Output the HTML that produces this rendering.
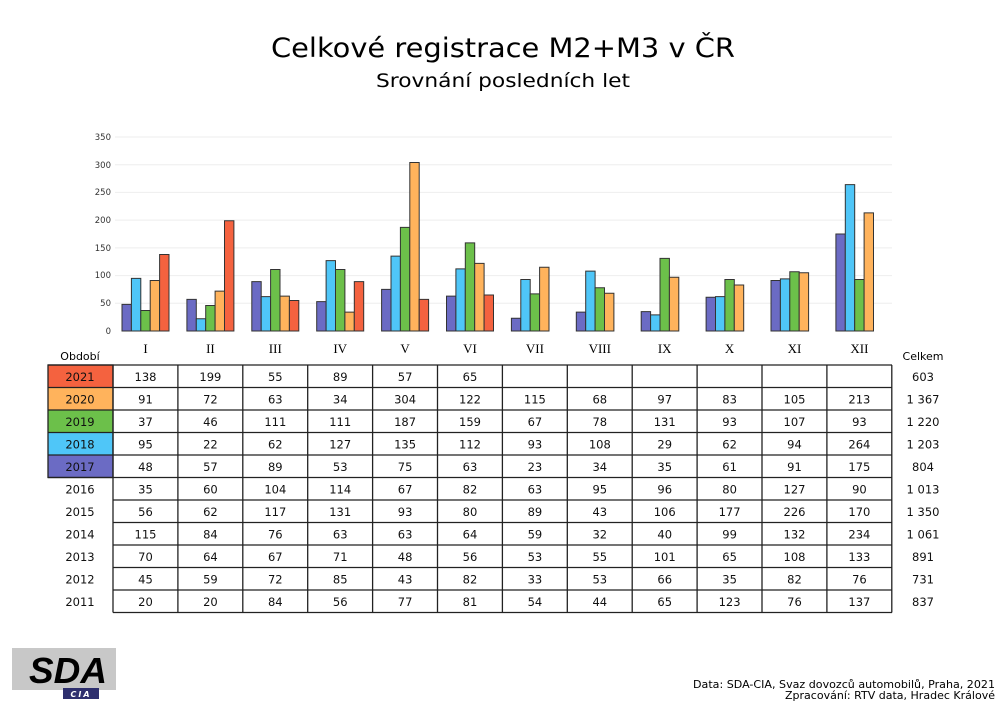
<!DOCTYPE html>
<html><head><meta charset="utf-8"><style>
html,body{margin:0;padding:0;background:#fff;}
svg{display:block;}
text{font-family:"DejaVu Sans","Liberation Sans",sans-serif;}
text.serif{font-family:"Liberation Serif",serif;}
text.lib{font-family:"Liberation Sans",sans-serif;}
</style></head><body>
<svg width="1007" height="709" viewBox="0 0 1007 709" xmlns="http://www.w3.org/2000/svg">
<text x="503" y="57" font-size="27" text-anchor="middle" textLength="464" lengthAdjust="spacingAndGlyphs" fill="#000">Celkové registrace M2+M3 v ČR</text>
<text x="503" y="87" font-size="19" text-anchor="middle" textLength="254" lengthAdjust="spacingAndGlyphs" fill="#000">Srovnání posledních let</text>
<g stroke="#eee" stroke-width="1">
<line x1="115" x2="892" y1="303.3" y2="303.3"/><line x1="115" x2="892" y1="275.6" y2="275.6"/>
<line x1="115" x2="892" y1="247.9" y2="247.9"/><line x1="115" x2="892" y1="220.1" y2="220.1"/>
<line x1="115" x2="892" y1="192.4" y2="192.4"/><line x1="115" x2="892" y1="164.7" y2="164.7"/>
<line x1="115" x2="892" y1="137" y2="137"/>
</g>
<g font-size="8.5" text-anchor="end" fill="#333">
<text x="111" y="334">0</text><text x="111" y="306">50</text><text x="111" y="278">100</text>
<text x="111" y="251">150</text><text x="111" y="223">200</text><text x="111" y="195">250</text>
<text x="111" y="168">300</text><text x="111" y="140">350</text>
</g>
<g transform="translate(0,331) scale(1,-0.5543)" stroke="#333" stroke-width="1">
<g transform="translate(113,0)"><rect x="9" y="0" width="9.4" height="48" fill="#6b6bc4" vector-effect="non-scaling-stroke"/><rect x="18.4" y="0" width="9.4" height="95" fill="#4fc6f8" vector-effect="non-scaling-stroke"/><rect x="27.8" y="0" width="9.4" height="37" fill="#6cc04a" vector-effect="non-scaling-stroke"/><rect x="37.2" y="0" width="9.4" height="91" fill="#ffb35c" vector-effect="non-scaling-stroke"/><rect x="46.6" y="0" width="9.4" height="138" fill="#f4623f" vector-effect="non-scaling-stroke"/></g>
<g transform="translate(177.9,0)"><rect x="9" y="0" width="9.4" height="57" fill="#6b6bc4" vector-effect="non-scaling-stroke"/><rect x="18.4" y="0" width="9.4" height="22" fill="#4fc6f8" vector-effect="non-scaling-stroke"/><rect x="27.8" y="0" width="9.4" height="46" fill="#6cc04a" vector-effect="non-scaling-stroke"/><rect x="37.2" y="0" width="9.4" height="72" fill="#ffb35c" vector-effect="non-scaling-stroke"/><rect x="46.6" y="0" width="9.4" height="199" fill="#f4623f" vector-effect="non-scaling-stroke"/></g>
<g transform="translate(242.8,0)"><rect x="9" y="0" width="9.4" height="89" fill="#6b6bc4" vector-effect="non-scaling-stroke"/><rect x="18.4" y="0" width="9.4" height="62" fill="#4fc6f8" vector-effect="non-scaling-stroke"/><rect x="27.8" y="0" width="9.4" height="111" fill="#6cc04a" vector-effect="non-scaling-stroke"/><rect x="37.2" y="0" width="9.4" height="63" fill="#ffb35c" vector-effect="non-scaling-stroke"/><rect x="46.6" y="0" width="9.4" height="55" fill="#f4623f" vector-effect="non-scaling-stroke"/></g>
<g transform="translate(307.7,0)"><rect x="9" y="0" width="9.4" height="53" fill="#6b6bc4" vector-effect="non-scaling-stroke"/><rect x="18.4" y="0" width="9.4" height="127" fill="#4fc6f8" vector-effect="non-scaling-stroke"/><rect x="27.8" y="0" width="9.4" height="111" fill="#6cc04a" vector-effect="non-scaling-stroke"/><rect x="37.2" y="0" width="9.4" height="34" fill="#ffb35c" vector-effect="non-scaling-stroke"/><rect x="46.6" y="0" width="9.4" height="89" fill="#f4623f" vector-effect="non-scaling-stroke"/></g>
<g transform="translate(372.6,0)"><rect x="9" y="0" width="9.4" height="75" fill="#6b6bc4" vector-effect="non-scaling-stroke"/><rect x="18.4" y="0" width="9.4" height="135" fill="#4fc6f8" vector-effect="non-scaling-stroke"/><rect x="27.8" y="0" width="9.4" height="187" fill="#6cc04a" vector-effect="non-scaling-stroke"/><rect x="37.2" y="0" width="9.4" height="304" fill="#ffb35c" vector-effect="non-scaling-stroke"/><rect x="46.6" y="0" width="9.4" height="57" fill="#f4623f" vector-effect="non-scaling-stroke"/></g>
<g transform="translate(437.5,0)"><rect x="9" y="0" width="9.4" height="63" fill="#6b6bc4" vector-effect="non-scaling-stroke"/><rect x="18.4" y="0" width="9.4" height="112" fill="#4fc6f8" vector-effect="non-scaling-stroke"/><rect x="27.8" y="0" width="9.4" height="159" fill="#6cc04a" vector-effect="non-scaling-stroke"/><rect x="37.2" y="0" width="9.4" height="122" fill="#ffb35c" vector-effect="non-scaling-stroke"/><rect x="46.6" y="0" width="9.4" height="65" fill="#f4623f" vector-effect="non-scaling-stroke"/></g>
<g transform="translate(502.4,0)"><rect x="9" y="0" width="9.4" height="23" fill="#6b6bc4" vector-effect="non-scaling-stroke"/><rect x="18.4" y="0" width="9.4" height="93" fill="#4fc6f8" vector-effect="non-scaling-stroke"/><rect x="27.8" y="0" width="9.4" height="67" fill="#6cc04a" vector-effect="non-scaling-stroke"/><rect x="37.2" y="0" width="9.4" height="115" fill="#ffb35c" vector-effect="non-scaling-stroke"/></g>
<g transform="translate(567.3,0)"><rect x="9" y="0" width="9.4" height="34" fill="#6b6bc4" vector-effect="non-scaling-stroke"/><rect x="18.4" y="0" width="9.4" height="108" fill="#4fc6f8" vector-effect="non-scaling-stroke"/><rect x="27.8" y="0" width="9.4" height="78" fill="#6cc04a" vector-effect="non-scaling-stroke"/><rect x="37.2" y="0" width="9.4" height="68" fill="#ffb35c" vector-effect="non-scaling-stroke"/></g>
<g transform="translate(632.2,0)"><rect x="9" y="0" width="9.4" height="35" fill="#6b6bc4" vector-effect="non-scaling-stroke"/><rect x="18.4" y="0" width="9.4" height="29" fill="#4fc6f8" vector-effect="non-scaling-stroke"/><rect x="27.8" y="0" width="9.4" height="131" fill="#6cc04a" vector-effect="non-scaling-stroke"/><rect x="37.2" y="0" width="9.4" height="97" fill="#ffb35c" vector-effect="non-scaling-stroke"/></g>
<g transform="translate(697.1,0)"><rect x="9" y="0" width="9.4" height="61" fill="#6b6bc4" vector-effect="non-scaling-stroke"/><rect x="18.4" y="0" width="9.4" height="62" fill="#4fc6f8" vector-effect="non-scaling-stroke"/><rect x="27.8" y="0" width="9.4" height="93" fill="#6cc04a" vector-effect="non-scaling-stroke"/><rect x="37.2" y="0" width="9.4" height="83" fill="#ffb35c" vector-effect="non-scaling-stroke"/></g>
<g transform="translate(762,0)"><rect x="9" y="0" width="9.4" height="91" fill="#6b6bc4" vector-effect="non-scaling-stroke"/><rect x="18.4" y="0" width="9.4" height="94" fill="#4fc6f8" vector-effect="non-scaling-stroke"/><rect x="27.8" y="0" width="9.4" height="107" fill="#6cc04a" vector-effect="non-scaling-stroke"/><rect x="37.2" y="0" width="9.4" height="105" fill="#ffb35c" vector-effect="non-scaling-stroke"/></g>
<g transform="translate(826.9,0)"><rect x="9" y="0" width="9.4" height="175" fill="#6b6bc4" vector-effect="non-scaling-stroke"/><rect x="18.4" y="0" width="9.4" height="264" fill="#4fc6f8" vector-effect="non-scaling-stroke"/><rect x="27.8" y="0" width="9.4" height="93" fill="#6cc04a" vector-effect="non-scaling-stroke"/><rect x="37.2" y="0" width="9.4" height="213" fill="#ffb35c" vector-effect="non-scaling-stroke"/></g>
</g>
<g font-size="13" text-anchor="middle" fill="#000">
<text class="serif" x="145.5" y="353">I</text><text class="serif" x="210.4" y="353">II</text><text class="serif" x="275.3" y="353">III</text><text class="serif" x="340.2" y="353">IV</text><text class="serif" x="405.1" y="353">V</text><text class="serif" x="470" y="353">VI</text><text class="serif" x="534.9" y="353">VII</text><text class="serif" x="599.8" y="353">VIII</text><text class="serif" x="664.7" y="353">IX</text><text class="serif" x="729.6" y="353">X</text><text class="serif" x="794.5" y="353">XI</text><text class="serif" x="859.4" y="353">XII</text>
</g>
<text x="80" y="360" font-size="11" text-anchor="middle">Období</text>
<text x="923" y="360" font-size="11" text-anchor="middle">Celkem</text>
<rect x="48" y="365" width="65" height="22.5" fill="#f4623f"/>
<rect x="48" y="387.5" width="65" height="22.5" fill="#ffb35c"/>
<rect x="48" y="410" width="65" height="22.5" fill="#6cc04a"/>
<rect x="48" y="432.5" width="65" height="22.5" fill="#4fc6f8"/>
<rect x="48" y="455" width="65" height="22.5" fill="#6b6bc4"/>
<g stroke="#222" stroke-width="1.3" fill="none">
<rect x="48" y="365" width="65" height="112.5"/>
<line x1="48" x2="892" y1="365" y2="365"/><line x1="48" x2="892" y1="387.5" y2="387.5"/><line x1="48" x2="892" y1="410" y2="410"/><line x1="48" x2="892" y1="432.5" y2="432.5"/><line x1="48" x2="892" y1="455" y2="455"/><line x1="48" x2="892" y1="477.5" y2="477.5"/>
<line x1="113" x2="892" y1="500" y2="500"/><line x1="113" x2="892" y1="522.5" y2="522.5"/><line x1="113" x2="892" y1="545" y2="545"/><line x1="113" x2="892" y1="567.5" y2="567.5"/><line x1="113" x2="892" y1="590" y2="590"/><line x1="113" x2="892" y1="612.5" y2="612.5"/>
<line x1="113" x2="113" y1="365" y2="612.5"/><line x1="177.9" x2="177.9" y1="365" y2="612.5"/><line x1="242.8" x2="242.8" y1="365" y2="612.5"/><line x1="307.7" x2="307.7" y1="365" y2="612.5"/><line x1="372.6" x2="372.6" y1="365" y2="612.5"/><line x1="437.5" x2="437.5" y1="365" y2="612.5"/><line x1="502.4" x2="502.4" y1="365" y2="612.5"/><line x1="567.3" x2="567.3" y1="365" y2="612.5"/><line x1="632.2" x2="632.2" y1="365" y2="612.5"/><line x1="697.1" x2="697.1" y1="365" y2="612.5"/><line x1="762" x2="762" y1="365" y2="612.5"/><line x1="826.9" x2="826.9" y1="365" y2="612.5"/><line x1="891.8" x2="891.8" y1="365" y2="612.5"/>
</g>
<g font-size="11.5" text-anchor="middle" fill="#111">
<g transform="translate(0,381)"><text x="80">2021</text><text x="145.5">138</text><text x="210.4">199</text><text x="275.3">55</text><text x="340.2">89</text><text x="405.1">57</text><text x="470">65</text><text x="923">603</text></g>
<g transform="translate(0,403.5)"><text x="80">2020</text><text x="145.5">91</text><text x="210.4">72</text><text x="275.3">63</text><text x="340.2">34</text><text x="405.1">304</text><text x="470">122</text><text x="534.9">115</text><text x="599.8">68</text><text x="664.7">97</text><text x="729.6">83</text><text x="794.5">105</text><text x="859.4">213</text><text x="923">1 367</text></g>
<g transform="translate(0,426)"><text x="80">2019</text><text x="145.5">37</text><text x="210.4">46</text><text x="275.3">111</text><text x="340.2">111</text><text x="405.1">187</text><text x="470">159</text><text x="534.9">67</text><text x="599.8">78</text><text x="664.7">131</text><text x="729.6">93</text><text x="794.5">107</text><text x="859.4">93</text><text x="923">1 220</text></g>
<g transform="translate(0,448.5)"><text x="80">2018</text><text x="145.5">95</text><text x="210.4">22</text><text x="275.3">62</text><text x="340.2">127</text><text x="405.1">135</text><text x="470">112</text><text x="534.9">93</text><text x="599.8">108</text><text x="664.7">29</text><text x="729.6">62</text><text x="794.5">94</text><text x="859.4">264</text><text x="923">1 203</text></g>
<g transform="translate(0,471)"><text x="80">2017</text><text x="145.5">48</text><text x="210.4">57</text><text x="275.3">89</text><text x="340.2">53</text><text x="405.1">75</text><text x="470">63</text><text x="534.9">23</text><text x="599.8">34</text><text x="664.7">35</text><text x="729.6">61</text><text x="794.5">91</text><text x="859.4">175</text><text x="923">804</text></g>
<g transform="translate(0,493.5)"><text x="80">2016</text><text x="145.5">35</text><text x="210.4">60</text><text x="275.3">104</text><text x="340.2">114</text><text x="405.1">67</text><text x="470">82</text><text x="534.9">63</text><text x="599.8">95</text><text x="664.7">96</text><text x="729.6">80</text><text x="794.5">127</text><text x="859.4">90</text><text x="923">1 013</text></g>
<g transform="translate(0,516)"><text x="80">2015</text><text x="145.5">56</text><text x="210.4">62</text><text x="275.3">117</text><text x="340.2">131</text><text x="405.1">93</text><text x="470">80</text><text x="534.9">89</text><text x="599.8">43</text><text x="664.7">106</text><text x="729.6">177</text><text x="794.5">226</text><text x="859.4">170</text><text x="923">1 350</text></g>
<g transform="translate(0,538.5)"><text x="80">2014</text><text x="145.5">115</text><text x="210.4">84</text><text x="275.3">76</text><text x="340.2">63</text><text x="405.1">63</text><text x="470">64</text><text x="534.9">59</text><text x="599.8">32</text><text x="664.7">40</text><text x="729.6">99</text><text x="794.5">132</text><text x="859.4">234</text><text x="923">1 061</text></g>
<g transform="translate(0,561)"><text x="80">2013</text><text x="145.5">70</text><text x="210.4">64</text><text x="275.3">67</text><text x="340.2">71</text><text x="405.1">48</text><text x="470">56</text><text x="534.9">53</text><text x="599.8">55</text><text x="664.7">101</text><text x="729.6">65</text><text x="794.5">108</text><text x="859.4">133</text><text x="923">891</text></g>
<g transform="translate(0,583.5)"><text x="80">2012</text><text x="145.5">45</text><text x="210.4">59</text><text x="275.3">72</text><text x="340.2">85</text><text x="405.1">43</text><text x="470">82</text><text x="534.9">33</text><text x="599.8">53</text><text x="664.7">66</text><text x="729.6">35</text><text x="794.5">82</text><text x="859.4">76</text><text x="923">731</text></g>
<g transform="translate(0,606)"><text x="80">2011</text><text x="145.5">20</text><text x="210.4">20</text><text x="275.3">84</text><text x="340.2">56</text><text x="405.1">77</text><text x="470">81</text><text x="534.9">54</text><text x="599.8">44</text><text x="664.7">65</text><text x="729.6">123</text><text x="794.5">76</text><text x="859.4">137</text><text x="923">837</text></g>
</g>
<rect x="12" y="648" width="104" height="42" fill="#c8c8c8"/>
<text class="lib" x="68" y="683" font-size="36" font-weight="bold" font-style="italic" text-anchor="middle" fill="#000" textLength="78" lengthAdjust="spacingAndGlyphs">SDA</text>
<rect x="63" y="688" width="36" height="11" fill="#2e2f6e"/>
<text x="81" y="697" font-size="8" font-weight="bold" font-style="italic" text-anchor="middle" fill="#fff" letter-spacing="2">CIA</text>
<g font-size="10.5" text-anchor="end" fill="#000">
<text x="995" y="688" textLength="302" lengthAdjust="spacingAndGlyphs">Data: SDA-CIA, Svaz dovozců automobilů, Praha, 2021</text>
<text x="995" y="699" textLength="210" lengthAdjust="spacingAndGlyphs">Zpracování: RTV data, Hradec Králové</text>
</g>
</svg>
</body></html>
